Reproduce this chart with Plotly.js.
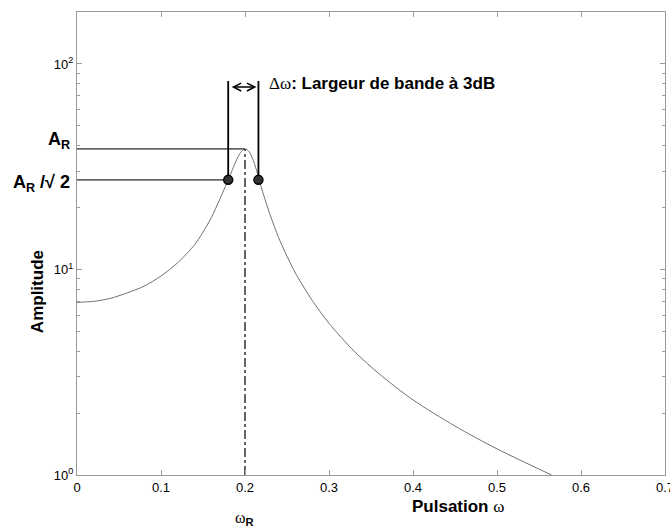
<!DOCTYPE html>
<html>
<head>
<meta charset="utf-8">
<script src="https://cdn.plot.ly/plotly-3.0.1.min.js"></script>
<style>html,body{margin:0;padding:0;background:#fff;}#chart{width:670px;height:532px;}</style>
</head>
<body>
<div id="chart"></div>
<script>
// Resonance curve
var omega = [0, 0.02, 0.04, 0.06, 0.08, 0.10, 0.12, 0.14, 0.15, 0.16, 0.17, 0.18, 0.185, 0.19, 0.195, 0.20, 0.205, 0.21, 0.215, 0.22, 0.23, 0.24, 0.25, 0.26, 0.27, 0.28, 0.30, 0.33, 0.36, 0.40, 0.45, 0.50, 0.565];
var amplitude = [6.92, 7.0, 7.24, 7.7, 8.3, 9.3, 10.8, 13.2, 15.2, 17.9, 22.0, 27.3, 30.6, 34.2, 37.2, 38.6, 37.4, 33.8, 29.2, 24.6, 18.4, 14.3, 11.6, 9.6, 8.2, 7.07, 5.47, 4.0, 3.1, 2.32, 1.73, 1.34, 1.0];

// Key points
var resonanceOmega = 0.2;
var resonanceAmp = 38.6;
var halfPowerOmega = [0.18, 0.216];
var halfPowerAmp = [27.3, 27.3];
var bandTopAmp = 82.6;
var axisBottomAmp = 1;

// Tick labels
var xTickVals = [0, 0.1, 0.2, 0.3, 0.4, 0.5, 0.6, 0.7];
var xTickText = ['0', '0.1', '0.2', '0.3', '0.4', '0.5', '0.6', '0.7'];
var yTickVals = [1, 10, 100];
var yTickText = ['10<sup>0</sup>', '10<sup>1</sup>', '10<sup>2</sup>'];
var yMinorVals = [2,3,4,5,6,7,8,9,20,30,40,50,60,70,80,90,200];

var axisCol = '#9a9a9a';
var traces = [
  {x: omega, y: amplitude, mode: 'lines', line: {color: '#707070', width: 1, shape: 'spline', smoothing: 0.8}, hoverinfo: 'skip'},
  {x: [0, resonanceOmega], y: [resonanceAmp, resonanceAmp], mode: 'lines', line: {color: '#666', width: 1.8}},
  {x: [0, halfPowerOmega[0]], y: [halfPowerAmp[0], halfPowerAmp[0]], mode: 'lines', line: {color: '#666', width: 1.8}},
  {x: [resonanceOmega, resonanceOmega], y: [axisBottomAmp, resonanceAmp], mode: 'lines', line: {color: '#333', width: 1.5, dash: 'dashdot'}},
  {x: [halfPowerOmega[0], halfPowerOmega[0]], y: [halfPowerAmp[0], bandTopAmp], mode: 'lines', line: {color: '#000', width: 1.8}},
  {x: [halfPowerOmega[1], halfPowerOmega[1]], y: [halfPowerAmp[1], bandTopAmp], mode: 'lines', line: {color: '#000', width: 1.8}},
  {x: halfPowerOmega, y: halfPowerAmp, mode: 'markers', marker: {size: 9, color: '#333', line: {color: '#000', width: 1.5}}}
];

var F = 'Liberation Sans, Arial, sans-serif';
var layout = {
  width: 670, height: 532,
  margin: {l: 77, r: 5, t: 12, b: 57},
  paper_bgcolor: '#fff', plot_bgcolor: '#fff',
  showlegend: false,
  font: {family: F, size: 13, color: '#000'},
  xaxis: {
    range: [0, 0.7], tickmode: 'array', tickvals: xTickVals, ticktext: xTickText,
    ticks: 'inside', ticklen: 5, tickcolor: axisCol, showline: true, linecolor: axisCol, linewidth: 1,
    mirror: 'ticks', showgrid: false, zeroline: false, ticklabeloverflow: 'allow',
    tickfont: {family: F, size: 13, color: '#000'}
  },
  yaxis: {
    type: 'log', range: [0, 2.253], tickmode: 'array', tickvals: yTickVals, ticktext: yTickText,
    ticks: 'inside', ticklen: 5, tickcolor: axisCol, showline: true, linecolor: axisCol, linewidth: 1,
    mirror: 'ticks', showgrid: false, zeroline: false, tickfont: {family: F, size: 13, color: '#000'},
    minor: {tickmode: 'array', tickvals: yMinorVals, ticks: 'inside', ticklen: 3, tickcolor: axisCol, showgrid: false}
  },
  annotations: [
    {xref: 'paper', yref: 'paper', x: -0.0085, y: 0.7235, xanchor: 'right', yanchor: 'middle', showarrow: false,
     text: '<b>A<sub>R</sub></b>', font: {family: F, size: 18, color: '#000'}},
    {xref: 'paper', yref: 'paper', x: -0.0085, y: 0.630, xanchor: 'right', yanchor: 'middle', showarrow: false,
     text: '<b>A<sub>R</sub> /√ 2</b>', font: {family: F, size: 18, color: '#000'}},
    {xref: 'paper', yref: 'paper', x: 0.323, y: 0.8445, xanchor: 'left', yanchor: 'middle', showarrow: false,
     text: '<span style="font-family:Liberation Serif">Δω</span><b>: Largeur de bande à 3dB</b>', font: {family: F, size: 17, color: '#000'}},
    {xref: 'x', yref: 'paper', x: halfPowerOmega[1], y: 0.838, axref: 'x', ayref: 'pixel', ax: halfPowerOmega[0], ay: 0,
     showarrow: true, arrowside: 'end+start', arrowhead: 5, startarrowhead: 5, arrowsize: 1.1, startarrowsize: 1.1,
     arrowwidth: 1.4, arrowcolor: '#000', standoff: 2, startstandoff: 2, text: ''},
    {xref: 'paper', yref: 'paper', x: 0.2857, y: -0.095, xanchor: 'center', yanchor: 'middle', showarrow: false,
     text: '<span style="font-family:Liberation Serif">ω</span><sub><b>R</b></sub>', font: {family: F, size: 16, color: '#000'}},
    {xref: 'paper', yref: 'paper', x: 0.648, y: -0.069, xanchor: 'center', yanchor: 'middle', showarrow: false,
     text: '<b>Pulsation</b> <span style="font-family:Liberation Serif">ω</span>', font: {family: F, size: 17, color: '#000'}},
    {xref: 'paper', yref: 'paper', x: -0.068, y: 0.395, xanchor: 'center', yanchor: 'middle', showarrow: false, textangle: -90,
     text: '<b>Amplitude</b>', font: {family: F, size: 17, color: '#000'}}
  ]
};
Plotly.newPlot('chart', traces, layout, {staticPlot: true, displayModeBar: false});
</script>
</body>
</html>
